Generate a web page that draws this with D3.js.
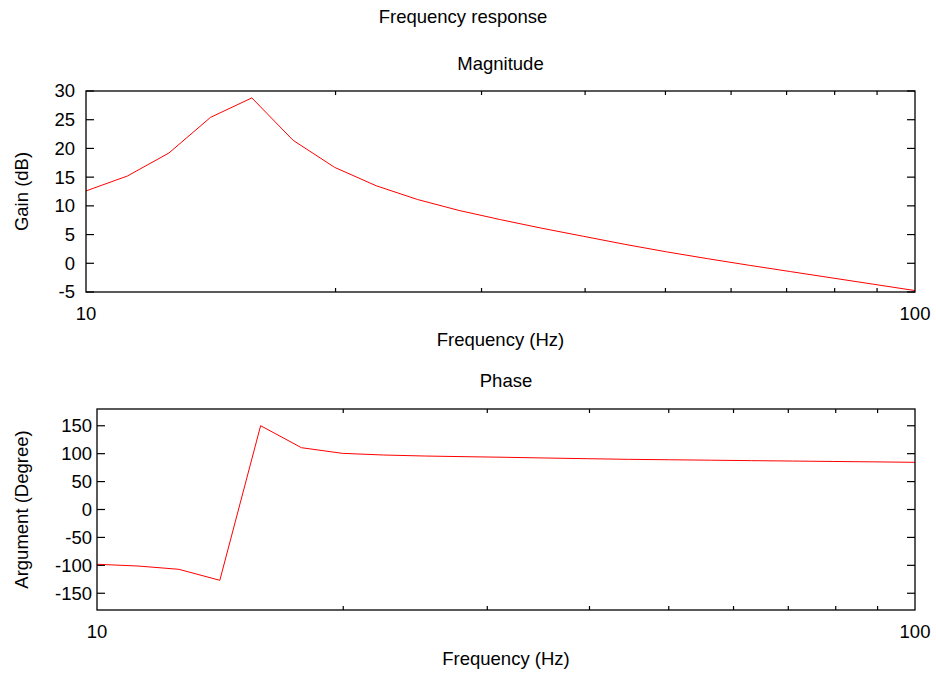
<!DOCTYPE html>
<html>
<head>
<meta charset="utf-8">
<script src="https://cdn.jsdelivr.net/npm/d3@7"></script>
<style>
  body { margin: 0; background: #fff; }
  svg { display: block; font-family: "Liberation Sans", Arial, sans-serif; }
</style>
</head>
<body>
<svg id="chart" width="936" height="673"></svg>
<script>
// frequencies (Hz), 20 points per decade
const freq = [10, 11.22, 12.59, 14.13, 15.85, 17.78, 19.95, 22.39, 25.12, 28.18,
  31.62, 35.48, 39.81, 44.67, 50.12, 56.23, 63.10, 70.79, 79.43, 89.13, 100];
// magnitude (dB)
const gain = [12.6, 15.2, 19.2, 25.4, 28.8, 21.4, 16.7, 13.5, 11.1, 9.2,
  7.6, 6.1, 4.7, 3.3, 2.0, 0.8, -0.35, -1.45, -2.55, -3.65, -4.75];
// phase (degree)
const phase = [-98.1, -101.2, -107.1, -126.8, 150.1, 110.7, 100.6, 97.6, 95.8, 94.6,
  93.5, 92.2, 91.0, 89.85, 89.1, 88.3, 87.5, 86.8, 86.0, 85.3, 84.5];

const gainTicks = [-5, 0, 5, 10, 15, 20, 25, 30];
const phaseTicks = [-150, -100, -50, 0, 50, 100, 150];
const freqMajor = [10, 100];
const freqMinor = [20, 30, 40, 50, 60, 70, 80, 90];

const svg = d3.select("#chart");
const fontSize = "18.5px";

svg.append("text")
  .attr("x", 463).attr("y", 23)
  .attr("text-anchor", "middle")
  .style("font-size", fontSize)
  .text("Frequency response");

function drawPanel(opt) {
  const { left, right, top, bottom, yDomain, yTicks, values, title, yLabel, labelGap, xLabelY, titleY, xTickY } = opt;

  const x = d3.scaleLog().domain([10, 100]).range([left, right]);
  const y = d3.scaleLinear().domain(yDomain).range([bottom, top]);
  const g = svg.append("g");

  // minor x ticks on top and bottom
  const major = 8, minor = 4;
  freqMinor.forEach(f => {
    g.append("line").attr("x1", x(f)).attr("x2", x(f)).attr("y1", bottom).attr("y2", bottom - minor)
      .attr("stroke", "#000").attr("stroke-width", 1.2);
    g.append("line").attr("x1", x(f)).attr("x2", x(f)).attr("y1", top).attr("y2", top + minor)
      .attr("stroke", "#000").attr("stroke-width", 1.2);
  });

  // y ticks on both sides
  yTicks.forEach(t => {
    g.append("line").attr("x1", left).attr("x2", left + major).attr("y1", y(t)).attr("y2", y(t))
      .attr("stroke", "#000").attr("stroke-width", 1.2);
    g.append("line").attr("x1", right).attr("x2", right - major).attr("y1", y(t)).attr("y2", y(t))
      .attr("stroke", "#000").attr("stroke-width", 1.2);
    g.append("text")
      .attr("x", left - labelGap).attr("y", y(t))
      .attr("dy", "0.35em")
      .attr("text-anchor", "end")
      .style("font-size", fontSize)
      .text(t);
  });

  freqMajor.forEach(f => {
    g.append("text")
      .attr("x", x(f)).attr("y", xTickY)
      .attr("text-anchor", "middle")
      .style("font-size", fontSize)
      .text(f);
  });

  // the curve
  g.append("path")
    .datum(freq.map((f, i) => [f, values[i]]))
    .attr("fill", "none")
    .attr("stroke", "#ff0000")
    .attr("stroke-width", 1)
    .attr("d", d3.line().x(d => x(d[0])).y(d => y(d[1])));

  // frame
  g.append("rect")
    .attr("x", left).attr("y", top)
    .attr("width", right - left).attr("height", bottom - top)
    .attr("fill", "none").attr("stroke", "#000").attr("stroke-width", 1.3);

  g.append("text")
    .attr("x", (left + right) / 2).attr("y", titleY)
    .attr("text-anchor", "middle")
    .style("font-size", fontSize)
    .text(title);

  g.append("text")
    .attr("x", (left + right) / 2).attr("y", xLabelY)
    .attr("text-anchor", "middle")
    .style("font-size", fontSize)
    .text("Frequency (Hz)");

  g.append("text")
    .attr("transform", `translate(28,${(top + bottom) / 2}) rotate(-90)`)
    .attr("text-anchor", "middle")
    .style("font-size", fontSize)
    .text(yLabel);
}

drawPanel({
  left: 86, right: 915, top: 91, bottom: 292,
  yDomain: [-5, 30], yTicks: gainTicks, values: gain,
  title: "Magnitude", yLabel: "Gain (dB)", labelGap: 11,
  titleY: 70, xTickY: 320, xLabelY: 346
});

drawPanel({
  left: 97, right: 915, top: 409, bottom: 610,
  yDomain: [-180, 180], yTicks: phaseTicks, values: phase,
  title: "Phase", yLabel: "Argument (Degree)", labelGap: 5,
  titleY: 387, xTickY: 638, xLabelY: 665
});
</script>
</body>
</html>
